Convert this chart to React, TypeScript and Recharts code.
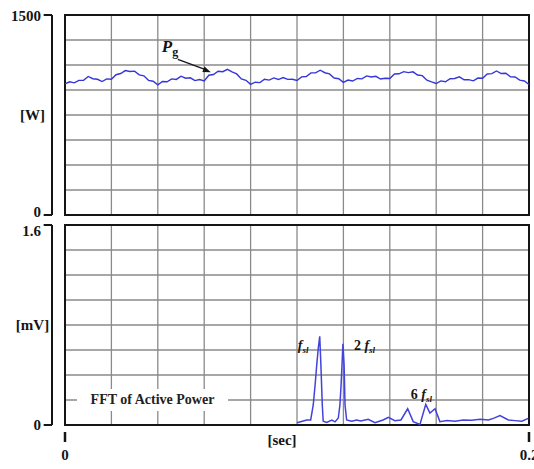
import {
  LineChart, Line, XAxis, YAxis, CartesianGrid, ReferenceArea, ReferenceDot, ReferenceLine, Legend,
} from 'recharts'

// active power Pg, one sample every 2 ms over 0..0.2 s
const PG_STEP = 0.002
const pgValues = [
  983, 999, 991, 1010, 1011, 1039, 1022, 1018, 1001, 1021,
  1018, 1052, 1061, 1083, 1076, 1079, 1051, 1044, 1010, 1003,
  976, 1001, 999, 1021, 1017, 1041, 1026, 1029, 1008, 1016,
  1005, 1048, 1054, 1078, 1075, 1092, 1074, 1058, 1021, 1010,
  980, 996, 993, 1018, 1012, 1028, 1016, 1031, 1017, 1018,
  1009, 1036, 1039, 1066, 1066, 1086, 1067, 1058, 1027, 1022,
  995, 1012, 1005, 1024, 1021, 1043, 1035, 1040, 1020, 1026,
  1024, 1058, 1059, 1075, 1068, 1074, 1050, 1045, 1011, 998,
  986, 1006, 999, 1022, 1024, 1036, 1014, 1015, 1006, 1027,
  1026, 1058, 1060, 1080, 1061, 1063, 1037, 1035, 1012, 1005, 979,
]

// FFT of active power
const fftTime = [
  0.1000, 0.1042, 0.1059, 0.1070, 0.1078, 0.1085, 0.1092, 0.1098, 0.1103, 0.1109,
  0.1113, 0.1128, 0.1150, 0.1164, 0.1178, 0.1185, 0.1190, 0.1194, 0.1198, 0.1203,
  0.1207, 0.1214, 0.1236, 0.1257, 0.1275, 0.1307, 0.1336, 0.1371, 0.1394, 0.1422,
  0.1448, 0.1477, 0.1501, 0.1530, 0.1555, 0.1573, 0.1595, 0.1616, 0.1647, 0.1681,
  0.1716, 0.1753, 0.1789, 0.1825, 0.1849, 0.1875, 0.1911, 0.1940, 0.1969, 0.1997,
]
const fftMag = [
  0.018, 0.040, 0.040, 0.16, 0.32, 0.48, 0.62, 0.71, 0.48, 0.16,
  0.030, 0.020, 0.040, 0.025, 0.056, 0.16, 0.32, 0.48, 0.65, 0.48,
  0.16, 0.040, 0.030, 0.040, 0.032, 0.045, 0.018, 0.040, 0.062, 0.035,
  0.040, 0.13, 0.027, 0.004, 0.165, 0.095, 0.13, 0.027, 0.035, 0.030,
  0.040, 0.038, 0.045, 0.040, 0.055, 0.075, 0.040, 0.035, 0.030, 0.053,
]

const xTicks = [0, 0.02, 0.04, 0.06, 0.08, 0.1, 0.12, 0.14, 0.16, 0.18, 0.2]
const xLabelTicks = [0, 0.2]
const pgTicks = [0, 187.5, 375, 562.5, 750, 937.5, 1125, 1312.5, 1500]
const pgLabelTicks = [0, 1500]
const fftTicks = [0, 0.2, 0.4, 0.6, 0.8, 1.0, 1.2, 1.4, 1.6]
const fftLabelTicks = [0, 1.6]

const pgArrowIdx = 31
const peakIdx = [7, 18, 34]

const pgData = pgValues.map((v, i) => ({ t: i * PG_STEP, v }))
const fftData = fftTime.map((t, i) => ({ t, v: fftMag[i] }))

const INK = '#151515'
const GRID = '#8a8a8a'
// bracket axis sits a little left of the plot frame (in x data units)
const BRACKET_X = -0.0056
const BRACKET_TICK_X = -0.0092

// labels only at the ends; the two panels sit close, so the end labels are nudged apart
function YTick({ x, y, payload, labels, lowDy = 0, highDy = 0 }: any) {
  const idx = labels.indexOf(payload.value)
  if (idx < 0) return null
  const dy = idx === 0 ? lowDy : highDy
  return (
    <text x={x - 24} y={y + 5 + dy} textAnchor="end" fontSize={15} fontWeight="bold" fill={INK}>{payload.value}</text>
  )
}

function XTick({ x, y, payload, labels }: any) {
  if (!labels.includes(payload.value)) return null
  return (
    <g>
      <line x1={x} x2={x} y1={y + 7} y2={y + 17} stroke={INK} strokeWidth={2.5} />
      <text x={x} y={y + 35} textAnchor="middle" fontSize={15} fontWeight="bold" fill={INK}>{payload.value}</text>
    </g>
  )
}

function PgTag({ viewBox }: any) {
  const { x, y } = viewBox
  return (
    <g>
      <line x1={x - 31} y1={y - 16} x2={x - 4} y2={y - 6} stroke={INK} strokeWidth={1.3} />
      <polygon points={`${x + 2},${y - 3} ${x - 4.3},${y - 8.8} ${x - 6.5},${y - 3.2}`} fill={INK} />
      <text x={x - 47} y={y - 23} fontSize={17} fontWeight="bold" fontStyle="italic" fill={INK}>
        P<tspan fontSize={12} fontStyle="normal" dy={4}>g</tspan>
      </text>
    </g>
  )
}

function PeakTag({ viewBox, prefix, dx, dy }: any) {
  return (
    <text x={viewBox.x + dx} y={viewBox.y + dy} fontSize={14} fontWeight="bold" fill={INK}>
      {prefix ? <tspan>{prefix}</tspan> : null}
      <tspan fontStyle="italic">f</tspan>
      <tspan fontStyle="italic" fontSize={9} dy={3}>sl</tspan>
    </text>
  )
}

function Bracket({ max }: { max: number }) {
  return [
    <ReferenceLine key="v" ifOverflow="visible" stroke={INK} strokeWidth={2}
      segment={[{ x: BRACKET_X, y: 0 }, { x: BRACKET_X, y: max }]} />,
    <ReferenceLine key="b" ifOverflow="visible" stroke={INK} strokeWidth={2}
      segment={[{ x: BRACKET_TICK_X, y: 0 }, { x: BRACKET_X, y: 0 }]} />,
    <ReferenceLine key="t" ifOverflow="visible" stroke={INK} strokeWidth={2}
      segment={[{ x: BRACKET_TICK_X, y: max }, { x: BRACKET_X, y: max }]} />,
  ]
}

const axisLabel = { fontSize: 15, fontWeight: 'bold', fill: INK }

export default function App() {
  return (
    <div style={{ position: 'absolute', left: 0, top: 0, width: 534, height: 469, background: '#fff', fontFamily: '"Liberation Serif", "Times New Roman", serif' }}>
      <div style={{ position: 'absolute', left: 0, top: 0 }}>
        <LineChart width={534} height={222} data={pgData} margin={{ top: 15, right: 5, bottom: 7, left: 0 }}>
          <XAxis dataKey="t" type="number" domain={[0, 0.2]} ticks={xTicks} hide />
          <YAxis
            domain={[0, 1500]} ticks={pgTicks} width={65} interval={0}
            axisLine={false} tickLine={false} tickSize={0} tickMargin={0}
            tick={<YTick labels={pgLabelTicks} lowDy={-3} highDy={1} />}
            label={{ value: '[W]', position: 'center', dx: 0, ...axisLabel }}
          />
          <CartesianGrid stroke={GRID} strokeWidth={1.3} />
          <ReferenceArea x1={0} x2={0.2} y1={0} y2={1500} fill="none" stroke={INK} strokeWidth={2} />
          {Bracket({ max: 1500 })}
          <Line dataKey="v" stroke="#3636d8" strokeWidth={1.4} dot={false} isAnimationActive={false} />
          <ReferenceDot x={pgData[pgArrowIdx].t} y={pgData[pgArrowIdx].v} r={0} fill="none" stroke="none" label={<PgTag />} />
        </LineChart>
      </div>
      <div style={{ position: 'absolute', left: 0, top: 218 }}>
        <LineChart width={534} height={251} data={fftData} margin={{ top: 7, right: 5, bottom: 0, left: 0 }}>
          <XAxis
            dataKey="t" type="number" domain={[0, 0.2]} ticks={xTicks} height={44} interval={0}
            axisLine={false} tickLine={false} tickSize={0} tickMargin={0}
            tick={<XTick labels={xLabelTicks} />}
            label={{ value: '[sec]', position: 'insideTop', offset: 9, dx: -15, ...axisLabel }}
          />
          <YAxis
            domain={[0, 1.6]} ticks={fftTicks} width={65} interval={0}
            axisLine={false} tickLine={false} tickSize={0} tickMargin={0}
            tick={<YTick labels={fftLabelTicks} lowDy={0} highDy={6} />}
            label={{ value: '[mV]', position: 'center', dx: 0, ...axisLabel }}
          />
          <CartesianGrid stroke={GRID} strokeWidth={1.3} />
          <ReferenceArea x1={0} x2={0.2} y1={0} y2={1.6} fill="none" stroke={INK} strokeWidth={2} />
          {Bracket({ max: 1.6 })}
          <Legend
            verticalAlign="middle" layout="horizontal"
            wrapperStyle={{ left: 77, top: 171, width: 151, height: 22 }}
            content={() => (
              <div style={{ background: '#fff', textAlign: 'center', fontWeight: 'bold', fontSize: 14, lineHeight: '22px', color: '#222' }}>
                FFT of Active Power
              </div>
            )}
          />
          <Line dataKey="v" stroke="#4242dc" strokeWidth={1.5} dot={false} isAnimationActive={false} />
          <ReferenceDot x={fftTime[peakIdx[0]]} y={fftMag[peakIdx[0]]} r={0} fill="none" stroke="none" label={<PeakTag prefix="" dx={-22} dy={14} />} />
          <ReferenceDot x={fftTime[peakIdx[1]]} y={fftMag[peakIdx[1]]} r={0} fill="none" stroke="none" label={<PeakTag prefix="2 " dx={11} dy={6} />} />
          <ReferenceDot x={fftTime[peakIdx[2]]} y={fftMag[peakIdx[2]]} r={0} fill="none" stroke="none" label={<PeakTag prefix="6 " dx={-15} dy={-5} />} />
        </LineChart>
      </div>
    </div>
  )
}
